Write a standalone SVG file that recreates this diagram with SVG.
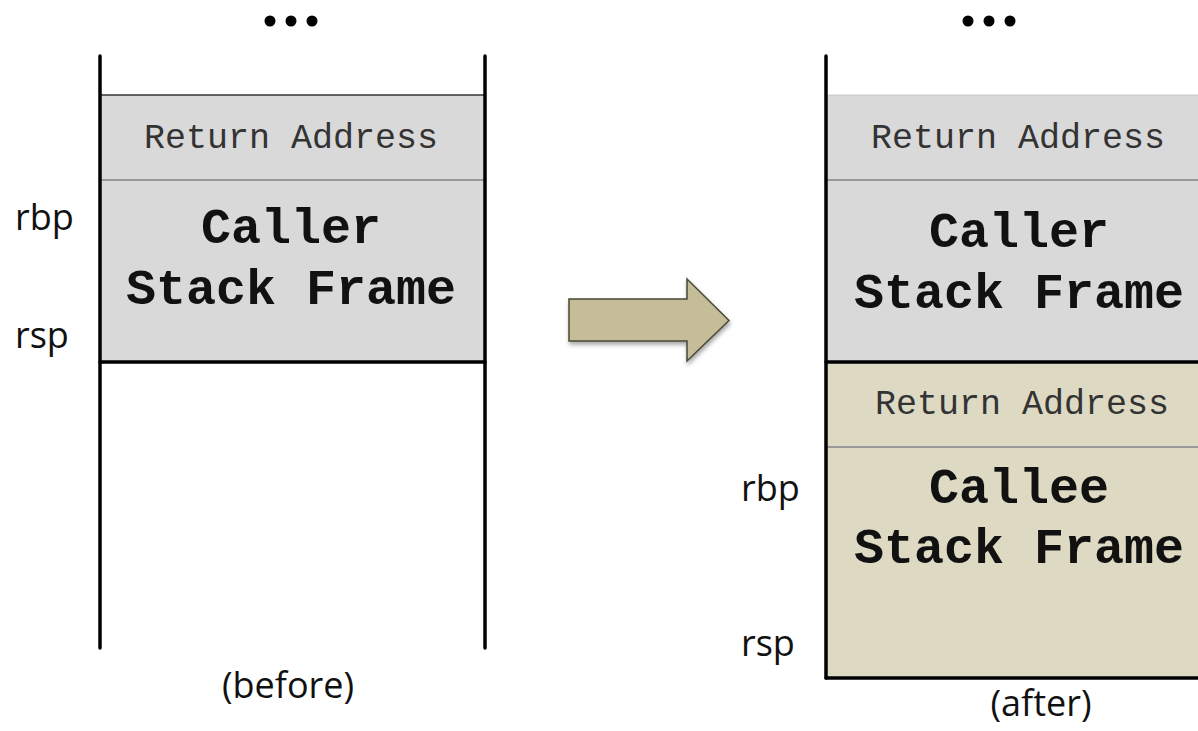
<svg xmlns="http://www.w3.org/2000/svg" width="1198" height="731" viewBox="0 0 1198 731">
<style>
.mono{font-family:"Liberation Mono","Courier New",monospace;text-anchor:middle;fill:#111}
.ra{font-size:35px;fill:#333}
.big{font-size:50px;font-weight:bold}
.lbl{font-family:"Open Sans","Liberation Sans",sans-serif;font-size:36px;fill:#111}
.wall{stroke:#000;stroke-width:3.5;fill:none;stroke-linecap:round}
.sep{stroke:#999;stroke-width:2}
.gray{fill:#d9d9d9}
.tan{fill:#ddd9c3}
</style>
<defs>
<filter id="sh" x="-10%" y="-10%" width="130%" height="140%">
<feDropShadow dx="1" dy="3" stdDeviation="2" flood-color="#000" flood-opacity="0.35"/>
</filter>
</defs>
<rect width="1198" height="731" fill="#fff"/>
<g id="before">
<rect class="gray" x="100" y="95" width="385" height="267"/>
<line x1="100" y1="95" x2="485" y2="95" stroke="#333" stroke-width="1.5"/>
<line class="sep" x1="100" y1="180" x2="485" y2="180"/>
<line class="wall" x1="100" y1="362" x2="485" y2="362"/>
<line class="wall" x1="100" y1="56" x2="100" y2="648"/>
<line class="wall" x1="485" y1="56" x2="485" y2="648"/>
<circle cx="270" cy="21" r="5.5"/><circle cx="291" cy="21" r="5.5"/><circle cx="312" cy="21" r="5.5"/>
<text class="mono ra" x="291" y="148">Return Address</text>
<text class="mono big" x="291" y="243">Caller</text>
<text class="mono big" x="291" y="304">Stack Frame</text>
<text class="lbl" x="15" y="230">rbp</text>
<text class="lbl" x="15" y="348">rsp</text>
<text class="lbl" x="288" y="698" text-anchor="middle">(before)</text>
</g>
<g id="connectors">
<path d="M569 299 H687 V279 L729 320.5 L687 361 V341 H569 Z" fill="#c4bd97" stroke="#4a4838" stroke-width="1.5" filter="url(#sh)"/>
</g>
<g id="after">
<rect class="gray" x="826" y="95" width="380" height="267"/>
<line x1="826" y1="95" x2="1198" y2="95" stroke="#c8c8c8" stroke-width="1"/>
<line class="sep" x1="826" y1="180" x2="1198" y2="180"/>
<rect class="tan" x="826" y="362" width="380" height="316"/>
<line class="sep" x1="826" y1="447" x2="1198" y2="447"/>
<line class="wall" x1="826" y1="362" x2="1200" y2="362"/>
<line class="wall" x1="826" y1="678" x2="1200" y2="678"/>
<line class="wall" x1="826" y1="56" x2="826" y2="678"/>
<circle cx="968" cy="21" r="5.5"/><circle cx="989" cy="21" r="5.5"/><circle cx="1010" cy="21" r="5.5"/>
<text class="mono ra" x="1018" y="148">Return Address</text>
<text class="mono big" x="1019" y="247">Caller</text>
<text class="mono big" x="1019" y="308">Stack Frame</text>
<text class="mono ra" x="1022" y="414">Return Address</text>
<text class="mono big" x="1019" y="503">Callee</text>
<text class="mono big" x="1019" y="563">Stack Frame</text>
<text class="lbl" x="741" y="501">rbp</text>
<text class="lbl" x="741" y="656">rsp</text>
<text class="lbl" x="1041" y="716" text-anchor="middle">(after)</text>
</g>
</svg>
